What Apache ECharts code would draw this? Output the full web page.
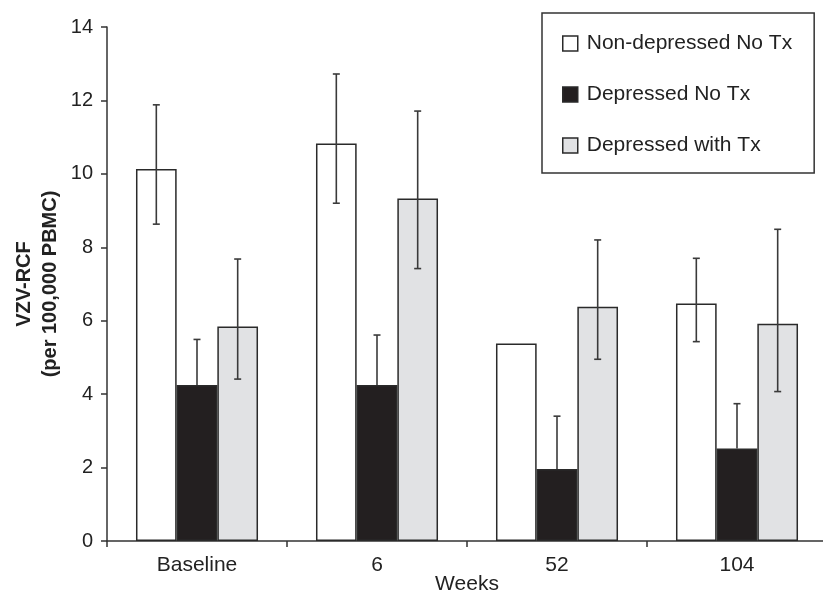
<!DOCTYPE html>
<html>
<head>
<meta charset="utf-8">
<script src="https://cdn.jsdelivr.net/npm/echarts@6/dist/echarts.min.js"></script>
<style>html,body{margin:0;padding:0;background:#fff;}#c{width:823px;height:592px;}</style>
</head>
<body>
<div id="c"></div>
<script>
const categories = ['Baseline', '6', '52', '104'];
const seriesNames = ['Non-depressed No Tx', 'Depressed No Tx', 'Depressed with Tx'];
const nonDepNoTx = [10.13, 10.83, 5.38, 6.47];
const nonDepNoTxLow = [8.63, 9.2, null, 5.43];
const nonDepNoTxHigh = [11.88, 12.72, null, 7.70];
const depNoTx = [4.25, 4.25, 1.96, 2.52];
const depNoTxLow = [null, null, null, null];
const depNoTxHigh = [5.49, 5.61, 3.40, 3.74];
const depWithTx = [5.84, 9.33, 6.38, 5.92];
const depWithTxLow = [4.41, 7.42, 4.95, 4.07];
const depWithTxHigh = [7.68, 11.71, 8.20, 8.49];
const yTicks = [0, 2, 4, 6, 8, 10, 12, 14];

const FONT = 'Liberation Sans, Arial, sans-serif';
const BAR_RATIO = 0.226;
const fills = ['#ffffff', '#231f20', '#e1e2e4'];
const means = [nonDepNoTx, depNoTx, depWithTx];
const lows = [nonDepNoTxLow, depNoTxLow, depWithTxLow];
const highs = [nonDepNoTxHigh, depNoTxHigh, depWithTxHigh];

const chart = echarts.init(document.getElementById('c'), null, {renderer: 'canvas'});

const barSeries = seriesNames.map((name, s) => ({
  name: name,
  type: 'bar',
  data: means[s],
  barWidth: (BAR_RATIO * 100) + '%',
  barGap: '0%',
  itemStyle: {color: fills[s], borderColor: '#2a2a2a', borderWidth: 1.5},
  emphasis: {disabled: true},
  silent: true,
  z: 2
}));

const errSeries = seriesNames.map((name, s) => ({
  type: 'custom',
  name: 'err' + s,
  silent: true,
  z: 5,
  data: categories.map((c, i) => [i, means[s][i], lows[s][i], highs[s][i]]),
  encode: {x: 0, y: [1, 3]},
  renderItem: function (params, api) {
    const i = api.value(0);
    const m = api.value(1);
    let lo = api.value(2);
    let hi = api.value(3);
    if (isNaN(hi) && isNaN(lo)) return null;
    if (isNaN(lo)) lo = m;
    if (isNaN(hi)) hi = m;
    const base = api.coord([i, 0]);
    const catW = api.size([1, 0])[0];
    const barW = catW * BAR_RATIO;
    const x = base[0] + (s - 1) * barW;
    const yHi = api.coord([i, hi])[1];
    const yLo = api.coord([i, lo])[1];
    const cap = 3.5;
    const style = {stroke: '#3a3a3a', lineWidth: 1.6, fill: null};
    const children = [
      {type: 'line', shape: {x1: x, y1: yLo, x2: x, y2: yHi}, style: style}
    ];
    children.push({type: 'line', shape: {x1: x - cap, y1: yHi, x2: x + cap, y2: yHi}, style: style});
    if (lo !== m) children.push({type: 'line', shape: {x1: x - cap, y1: yLo, x2: x + cap, y2: yLo}, style: style});
    return {type: 'group', children: children};
  }
}));

chart.setOption({
  animation: false,
  backgroundColor: '#ffffff',
  grid: {left: 107, top: 27, bottom: 51, right: -4, containLabel: false, outerBoundsMode: 'none'},
  legend: {
    data: seriesNames,
    orient: 'vertical',
    left: 542,
    top: 13,
    icon: 'rect',
    itemWidth: 15,
    itemHeight: 15,
    itemGap: 30,
    padding: [20, 22, 17, 20],
    borderColor: '#333',
    borderWidth: 1.5,
    backgroundColor: '#fff',
    selectedMode: false,
    itemStyle: {borderColor: '#2a2a2a', borderWidth: 1.5},
    textStyle: {fontFamily: FONT, fontSize: 21, color: '#222', padding: [0, 0, 0, 4]}
  },
  xAxis: {
    type: 'category',
    data: categories,
    name: 'Weeks',
    nameLocation: 'middle',
    nameGap: 33,
    nameMoveOverlap: false,
    nameTextStyle: {fontFamily: FONT, fontSize: 21, color: '#222'},
    axisLine: {lineStyle: {color: '#333', width: 1.5}},
    axisTick: {show: true, length: 6, alignWithLabel: false, lineStyle: {color: '#333', width: 1.5}},
    axisLabel: {fontFamily: FONT, fontSize: 21, color: '#222', margin: 14},
    splitLine: {show: false}
  },
  yAxis: {
    type: 'value',
    min: 0,
    max: 14,
    interval: 2,
    name: 'VZV-RCF\n(per 100,000 PBMC)',
    nameLocation: 'middle',
    nameGap: 44,
    nameMoveOverlap: false,
    nameRotate: 90,
    nameTextStyle: {fontFamily: FONT, fontSize: 20, fontWeight: 'bold', color: '#222', lineHeight: 26},
    axisLine: {show: true, lineStyle: {color: '#333', width: 1.5}},
    axisTick: {show: true, length: 6, inside: false, lineStyle: {color: '#333', width: 1.5}},
    axisLabel: {fontFamily: FONT, fontSize: 20, color: '#222', margin: 14,
      formatter: v => (yTicks.indexOf(v) >= 0 ? String(v) : '')},
    splitLine: {show: false}
  },
  series: barSeries.concat(errSeries)
});
</script>
</body>
</html>
